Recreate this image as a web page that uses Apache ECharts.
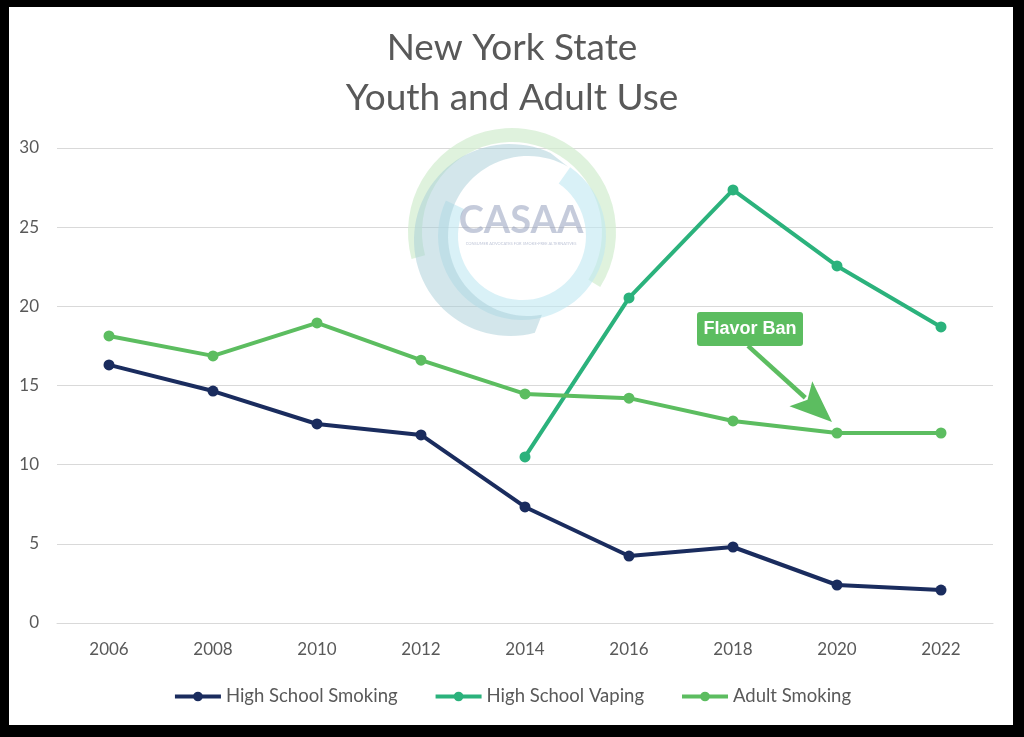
<!DOCTYPE html>
<html>
<head>
<meta charset="utf-8">
<script src="https://cdn.jsdelivr.net/npm/echarts@6/dist/echarts.min.js"></script>
<style>
html,body{margin:0;padding:0;background:#000;}
#chart{width:1024px;height:737px;}
</style>
</head>
<body>
<div id="chart"></div>
<script>
var years = ['2006','2008','2010','2012','2014','2016','2018','2020','2022'];
var hsSmoking = [16.3, 14.65, 12.57, 11.88, 7.33, 4.23, 4.8, 2.4, 2.08];
var hsVaping = [null, null, null, null, 10.49, 20.53, 27.35, 22.55, 18.7];
var adultSmoking = [18.13, 16.87, 18.95, 16.6, 14.47, 14.2, 12.76, 12.0, 12.0];
var yTicks = [0, 5, 10, 15, 20, 25, 30];

var FONT = 'Lato, "Open Sans", sans-serif';
var C_NAVY = '#1a2c5e', C_VAPE = '#2bb27c', C_ADULT = '#5cbd60';

var chart = echarts.init(document.getElementById('chart'));

function deg(a){return a*Math.PI/180;}

// watermark crescent (decoration): outer arc + inner arc of offset circles
function crescent(c1x, c1y, r1, a1, a2, c2x, c2y, r2, b1, b2){
  var pts = [], n = 60, i, t;
  for (i = 0; i <= n; i++) { t = deg(a1 + (a2 - a1) * i / n); pts.push([c1x + r1*Math.cos(t), c1y + r1*Math.sin(t)]); }
  for (i = 0; i <= n; i++) { t = deg(b2 + (b1 - b2) * i / n); pts.push([c2x + r2*Math.cos(t), c2y + r2*Math.sin(t)]); }
  return pts;
}

var option = {
  backgroundColor: '#000',
  animation: false,
  title: {
    text: 'New York State\nYouth and Adult Use',
    left: 'center', top: 18,
    textStyle: {fontFamily: FONT, fontSize: 37, fontWeight: 'normal', color: '#595959', lineHeight: 50}
  },
  grid: {left: 57, right: 31, top: 148, bottom: 114},
  xAxis: {
    type: 'category', data: years, boundaryGap: true,
    axisLine: {show: true, lineStyle: {color: '#d9d9d9'}},
    axisTick: {show: false},
    axisLabel: {fontFamily: FONT, fontSize: 17, color: '#595959', margin: 18}
  },
  yAxis: {
    type: 'value', min: yTicks[0], max: yTicks[yTicks.length-1], interval: 5,
    axisLine: {show: false}, axisTick: {show: false},
    splitLine: {lineStyle: {color: '#d9d9d9', width: 1}},
    axisLabel: {fontFamily: FONT, fontSize: 17, color: '#595959', margin: 18}
  },
  legend: {
    top: 682, left: 'center', itemWidth: 46, itemHeight: 12, itemGap: 36,
    lineStyle: {width: 4},
    textStyle: {fontFamily: FONT, fontSize: 18.5, color: '#595959'},
    data: ['High School Smoking','High School Vaping','Adult Smoking']
  },
  series: [
    {name: 'High School Smoking', type: 'line', data: hsSmoking, symbol: 'circle', symbolSize: 11,
     lineStyle: {width: 4, color: C_NAVY}, itemStyle: {color: C_NAVY}, z: 5},
    {name: 'High School Vaping', type: 'line', data: hsVaping, symbol: 'circle', symbolSize: 11,
     lineStyle: {width: 4, color: C_VAPE}, itemStyle: {color: C_VAPE}, z: 5},
    {name: 'Adult Smoking', type: 'line', data: adultSmoking, symbol: 'circle', symbolSize: 11,
     lineStyle: {width: 4, color: C_ADULT}, itemStyle: {color: C_ADULT}, z: 5}
  ],
  graphic: [
    {id: 'bg', type: 'rect', z: -100, silent: true, shape: {x: 9, y: 7, width: 1004, height: 718}, style: {fill: '#fff'}},
    {id: 'wm1', type: 'sector', z: 1, silent: true,
     shape: {cx: 512, cy: 232, r0: 90, r: 104, startAngle: deg(165), endAngle: deg(392), clockwise: true},
     style: {fill: 'rgba(210,236,206,0.7)'}},
    {id: 'wm3', type: 'sector', z: 1, silent: true,
     shape: {cx: 522, cy: 236, r0: 64, r: 84, startAngle: deg(-55), endAngle: deg(205), clockwise: true},
     style: {fill: 'rgba(192,232,241,0.6)'}},
    {id: 'wm2', type: 'polygon', z: 1, silent: true,
     shape: {points: crescent(510, 240, 96, 295, 75, 528, 236, 80, 300, 80)},
     style: {fill: 'rgba(168,206,216,0.5)'}},
    {id: 'wm4', type: 'text', z: 1, silent: true, x: 521, y: 221,
     style: {text: 'CASAA', fontFamily: 'Lato, sans-serif', fontWeight: 'bold', fontSize: 38,
             fill: 'rgba(150,160,190,0.55)', align: 'center', verticalAlign: 'middle'}},
    {id: 'wm5', type: 'text', z: 1, silent: true, x: 521, y: 244,
     style: {text: 'CONSUMER ADVOCATES FOR SMOKE-FREE ALTERNATIVES', fontFamily: 'Lato, sans-serif', fontSize: 4,
             fill: 'rgba(150,160,190,0.6)', align: 'center', verticalAlign: 'middle'}}
  ]
};
chart.setOption(option);

// Annotation: "Flavor Ban" callout with arrow pointing at the 2020 adult value
var tip = chart.convertToPixel({gridIndex: 0}, ['2020', 12.7]);
var tx = tip[0] - 5, ty = tip[1];
var sx = tx - 84, sy = ty - 76;
var dx = tx - sx, dy = ty - sy, L = Math.sqrt(dx*dx + dy*dy);
var ux = dx / L, uy = dy / L, px = -uy, py = ux;
var headLen = 42, halfW = 17;
var bx = tx - ux*headLen, by = ty - uy*headLen;
chart.setOption({
  graphic: [
    {id: 'arLine', type: 'line', z: 10, silent: true,
     shape: {x1: sx, y1: sy, x2: bx + ux*6, y2: by + uy*6},
     style: {stroke: C_ADULT, lineWidth: 4.5}},
    {id: 'arHead', type: 'polygon', z: 10, silent: true,
     shape: {points: [[tx, ty], [bx + px*halfW, by + py*halfW], [bx + ux*9, by + uy*9], [bx - px*halfW, by - py*halfW]]},
     style: {fill: C_ADULT}},
    {id: 'lblBox', type: 'rect', z: 11, silent: true,
     shape: {x: sx - 51, y: sy - 34, width: 106, height: 34, r: 3},
     style: {fill: C_ADULT}},
    {id: 'lblTxt', type: 'text', z: 12, silent: true, x: sx + 2, y: sy - 17,
     style: {text: 'Flavor Ban', fontFamily: '"Liberation Sans Narrow", "Liberation Sans", Arial, sans-serif', fontWeight: 'bold', fontSize: 18,
             fill: '#fff', align: 'center', verticalAlign: 'middle'}}
  ]
});
</script>
</body>
</html>
